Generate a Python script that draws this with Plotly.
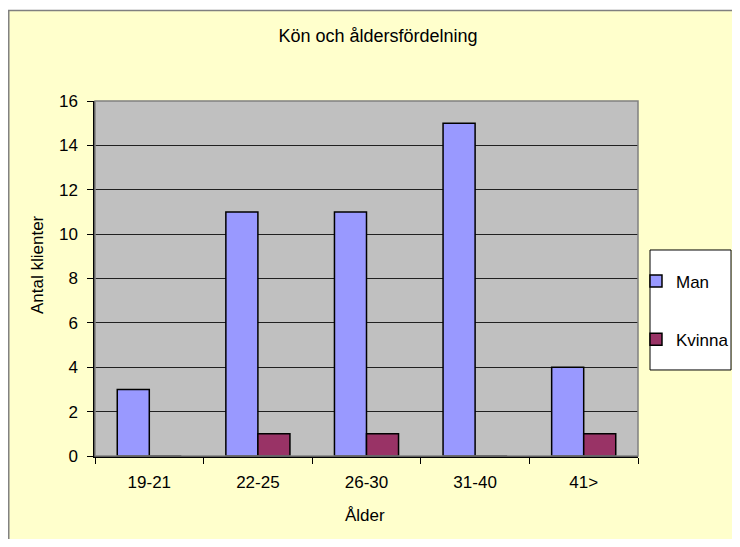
import plotly.graph_objects as go

# data
age_groups = ['19-21', '22-25', '26-30', '31-40', '41>']
man = [3, 11, 11, 15, 4]
kvinna = [0, 1, 1, 0, 1]

FONT = 'Liberation Sans, Arial, sans-serif'

fig = go.Figure()
fig.add_trace(go.Bar(x=age_groups, y=man, name='Man', legendgroup='a',
                     marker=dict(color='#9999FF', line=dict(color='black', width=1.5))))
fig.add_trace(go.Bar(x=age_groups, y=kvinna, name='Kvinna', legendgroup='b',
                     marker=dict(color='#993366', line=dict(color='black', width=1.5))))

# the page body has an 8px margin, so the figure is 16px smaller than the window
fig.update_layout(
    width=724, height=531,
    margin=dict(l=87, r=94, t=93, b=83, autoexpand=False),
    paper_bgcolor='#FFFFCC',
    plot_bgcolor='#C0C0C0',
    font=dict(family=FONT, size=17, color='black'),
    barmode='group', bargap=0.41, bargroupgap=0,
    title=dict(text='Kön och åldersfördelning', x=0.511, xref='container',
               y=0.9473, yref='container', xanchor='center', yanchor='middle',
               font=dict(size=18)),
    showlegend=True,
    legend=dict(x=0.9963, y=0.5423, xanchor='left', yanchor='top',
                bgcolor='rgba(0,0,0,0)', borderwidth=0,
                traceorder='grouped', tracegroupgap=33,
                font=dict(size=17), itemwidth=30),
)

fig.update_xaxes(showline=True, linecolor='black', linewidth=1.5,
                 ticks='outside', ticklen=6, tickcolor='black', tickson='boundaries',
                 ticklabelstandoff=10, showgrid=False, tickfont=dict(size=17))
fig.update_yaxes(range=[0, 16], dtick=2, showline=True, linecolor='black', linewidth=1.5,
                 ticks='outside', ticklen=6, tickcolor='black', ticklabelstandoff=6,
                 showgrid=True, gridcolor='#202020', gridwidth=1,
                 zeroline=False, tickfont=dict(size=17))

# axis titles placed by hand
fig.add_annotation(text='Antal klienter', x=-0.1068, y=0.538, xref='paper', yref='paper',
                   xanchor='center', yanchor='middle',
                   textangle=-90, showarrow=False, font=dict(size=17))
fig.add_annotation(text='Ålder', x=0.4972, y=-0.1662, xref='paper', yref='paper',
                   xanchor='center', yanchor='middle',
                   showarrow=False, font=dict(size=17))

# white strip above the chart frame and the frame itself
fig.add_shape(type='rect', xref='paper', yref='paper', x0=-0.3, x1=1.4, y0=1.2549, y1=1.4,
              fillcolor='white', line_width=0, layer='below')
fig.add_shape(type='rect', xref='paper', yref='paper', x0=-0.1588, x1=1.4, y0=-0.4, y1=1.2549,
              line=dict(color='#808080', width=1.5))
# plot area border
fig.add_shape(type='rect', xref='paper', yref='paper', x0=0, x1=1, y0=0, y1=1,
              line=dict(color='#808080', width=1.5))
# legend box
fig.add_shape(type='rect', xref='paper', yref='paper', x0=1.0221, x1=1.1713, y0=0.2423, y1=0.5803,
              fillcolor='white', line=dict(color='black', width=1))

fig.write_html('out.html')
